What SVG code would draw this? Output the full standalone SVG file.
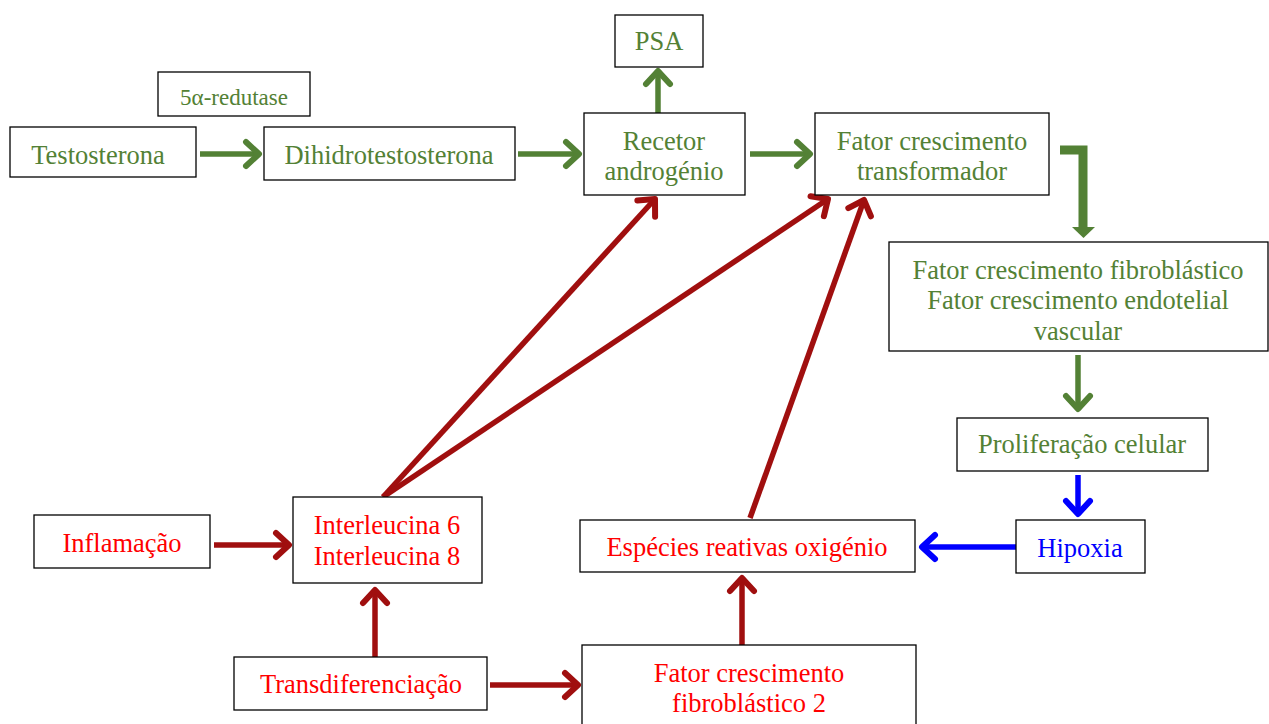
<svg xmlns="http://www.w3.org/2000/svg" width="1269" height="724" viewBox="0 0 1269 724">
<style>
.box{fill:#fff;stroke:#000;stroke-width:1.3}
text{font-family:"Liberation Serif","Times New Roman",serif;font-size:26.5px;text-anchor:middle}
.g{fill:#538135}
.r{fill:#FF0000}
.b{fill:#0000FF}
.lg{stroke:#538135;stroke-width:5.5;fill:none}
.lr{stroke:#A00F0F;stroke-width:5.5;fill:none}
.lb{stroke:#0000FF;stroke-width:5.5;fill:none}
</style>
<defs>
<marker id="ag" markerUnits="userSpaceOnUse" markerWidth="36" markerHeight="36" viewBox="-28 -18 36 36" refX="0" refY="0" orient="auto">
<path d="M-13,-12 L0,0 L-13,12" fill="none" stroke="#538135" stroke-width="6" stroke-linecap="round" stroke-linejoin="round"/>
</marker>
<marker id="ar" markerUnits="userSpaceOnUse" markerWidth="36" markerHeight="36" viewBox="-28 -18 36 36" refX="0" refY="0" orient="auto">
<path d="M-13,-12 L0,0 L-13,12" fill="none" stroke="#A00F0F" stroke-width="6" stroke-linecap="round" stroke-linejoin="round"/>
</marker>
<marker id="ab" markerUnits="userSpaceOnUse" markerWidth="36" markerHeight="36" viewBox="-28 -18 36 36" refX="0" refY="0" orient="auto">
<path d="M-13,-12 L0,0 L-13,12" fill="none" stroke="#0000FF" stroke-width="6" stroke-linecap="round" stroke-linejoin="round"/>
</marker>
</defs>
<rect width="1269" height="724" fill="#fff"/>
<g id="connectors">
<line class="lg" x1="200" y1="154" x2="259" y2="154" marker-end="url(#ag)"/>
<line class="lg" x1="518" y1="154" x2="579" y2="154" marker-end="url(#ag)"/>
<line class="lg" x1="658" y1="113" x2="658" y2="71" marker-end="url(#ag)"/>
<line class="lg" x1="750" y1="154" x2="810" y2="154" marker-end="url(#ag)"/>
<path d="M1060,150 L1083,150 L1083,228" fill="none" stroke="#538135" stroke-width="9"/>
<polygon points="1072,227 1095,227 1083.5,238" fill="#538135"/>
<line class="lg" x1="1078" y1="355" x2="1078" y2="409" marker-end="url(#ag)"/>
<line class="lb" x1="1078" y1="475" x2="1078" y2="514" marker-end="url(#ab)"/>
<line class="lb" x1="1016" y1="547" x2="922" y2="547" marker-end="url(#ab)"/>
<line class="lr" x1="214" y1="545" x2="289" y2="545" marker-end="url(#ar)"/>
<line class="lr" x1="375" y1="657" x2="375" y2="590" marker-end="url(#ar)"/>
<line class="lr" x1="490" y1="685" x2="578" y2="685" marker-end="url(#ar)"/>
<line class="lr" x1="742" y1="645" x2="742" y2="578" marker-end="url(#ar)"/>
<line class="lr" x1="750" y1="518" x2="864" y2="200" marker-end="url(#ar)"/>
<line class="lr" x1="383" y1="497" x2="655" y2="199" marker-end="url(#ar)"/>
<line class="lr" x1="383" y1="497" x2="828" y2="199" marker-end="url(#ar)"/>
</g>
<g id="n-5ar"><rect class="box" x="158" y="72" width="152" height="44"/><text class="g" x="234" y="105" style="font-size:23px">5α-redutase</text></g>
<g id="n-testo"><rect class="box" x="10" y="127" width="186" height="50"/><text class="g" x="98" y="164">Testosterona</text></g>
<g id="n-dht"><rect class="box" x="264" y="127" width="251" height="53"/><text class="g" x="389" y="164">Dihidrotestosterona</text></g>
<g id="n-psa"><rect class="box" x="615" y="15" width="88" height="52"/><text class="g" x="659" y="50">PSA</text></g>
<g id="n-recetor"><rect class="box" x="584" y="113" width="161" height="82"/><text class="g" x="664" y="150">Recetor</text><text class="g" x="664" y="180">androgénio</text></g>
<g id="n-tgf"><rect class="box" x="815" y="113" width="234" height="82"/><text class="g" x="932" y="150">Fator crescimento</text><text class="g" x="932" y="180">transformador</text></g>
<g id="n-fgf"><rect class="box" x="889" y="242" width="379" height="109"/><text class="g" x="1078" y="279">Fator crescimento fibroblástico</text><text class="g" x="1078" y="309">Fator crescimento endotelial</text><text class="g" x="1078" y="340">vascular</text></g>
<g id="n-prolif"><rect class="box" x="957" y="418" width="251" height="53"/><text class="g" x="1082" y="453">Proliferação celular</text></g>
<g id="n-hipoxia"><rect class="box" x="1016" y="520" width="129" height="53"/><text class="b" x="1080" y="557">Hipoxia</text></g>
<g id="n-ros"><rect class="box" x="580" y="520" width="335" height="52"/><text class="r" x="747" y="556">Espécies reativas oxigénio</text></g>
<g id="n-il"><rect class="box" x="293" y="497" width="189" height="86"/><text class="r" x="387" y="534">Interleucina 6</text><text class="r" x="387" y="565">Interleucina 8</text></g>
<g id="n-infl"><rect class="box" x="34" y="515" width="176" height="53"/><text class="r" x="122" y="552">Inflamação</text></g>
<g id="n-trans"><rect class="box" x="234" y="657" width="253" height="53"/><text class="r" x="361" y="693">Transdiferenciação</text></g>
<g id="n-fgf2"><rect class="box" x="582" y="645" width="334" height="82"/><text class="r" x="749" y="682">Fator crescimento</text><text class="r" x="749" y="712">fibroblástico 2</text></g>
</svg>
